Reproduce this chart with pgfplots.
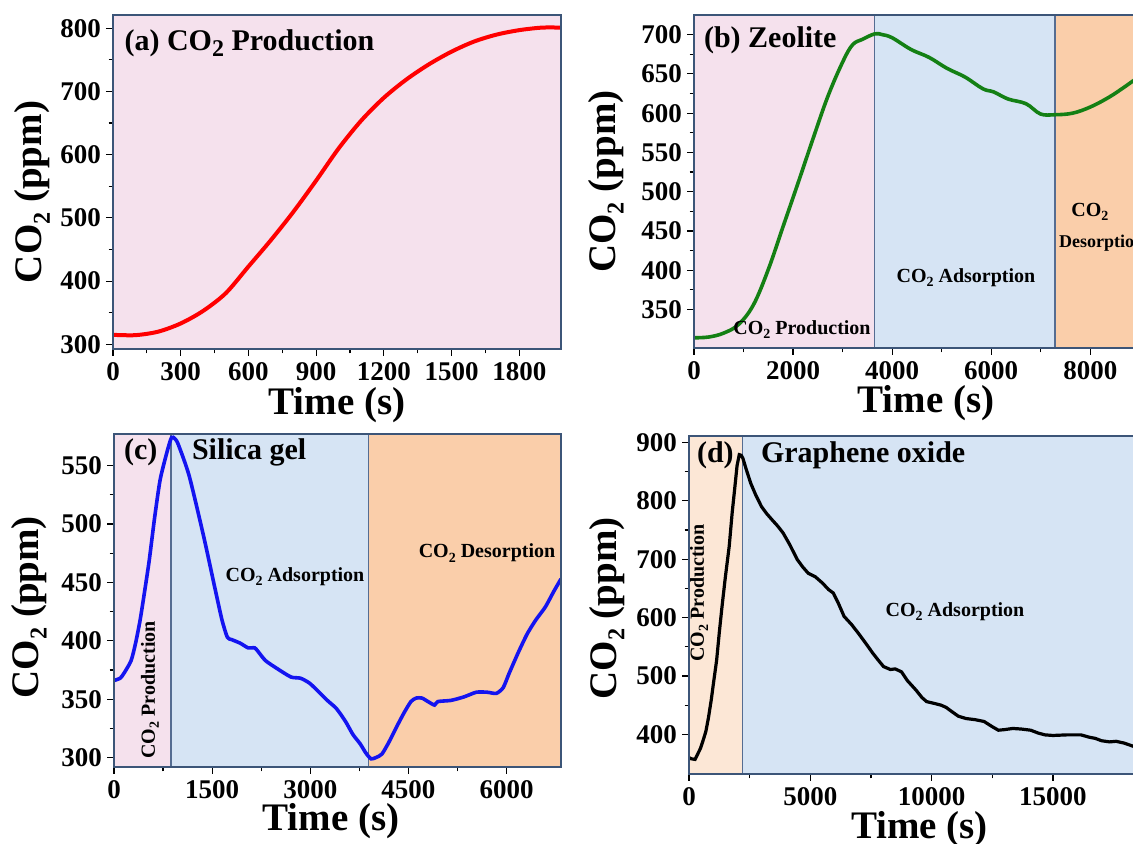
\documentclass[border=0pt]{standalone}
\usepackage{pgfplots}
\pgfplotsset{compat=1.18}
\usepackage{fontspec}
\setmainfont{Liberation Serif}
\usepackage{graphicx}
\definecolor{pinkbg}{RGB}{245,225,237}
\definecolor{bluebg}{RGB}{214,228,244}
\definecolor{orangebg}{RGB}{250,206,170}
\definecolor{peachbg}{RGB}{252,231,214}
\definecolor{axcol}{RGB}{60,85,120}
\definecolor{vcol}{RGB}{85,108,145}
\definecolor{cred}{RGB}{255,0,0}
\definecolor{cgreen}{RGB}{20,128,20}
\definecolor{cblue}{RGB}{20,20,240}
\newcommand\COt[1][0.62]{CO\raisebox{-0.45ex}{\scalebox{#1}{2}}}
\newcommand\smlab{\fontsize{10}{12}\selectfont\bfseries}
\newcommand\ttl{\fontsize{15}{17}\selectfont\bfseries}
\pgfplotsset{
  panel/.style={
    scale only axis, anchor=south west, axis on top,
    axis line style={axcol, line width=0.8pt},
    tick align=outside, tick pos=left,
    major tick length=3.5pt, minor tick length=2.2pt,
    every tick/.style={black, line width=0.6pt},
    minor tick num=1,
    scaled x ticks=false, scaled y ticks=false,
    tick label style={font=\fontsize{13.5}{15}\selectfont\bfseries},
    yticklabel style={xshift=1pt},
    xticklabel style={yshift=0.5pt},
    /pgf/number format/assume math mode=true,
    /pgf/number format/1000 sep={},
    label style={font=\fontsize{19.5}{21}\selectfont\bfseries},
    xlabel={Time (s)}, ylabel={\COt\ (ppm)},
    xlabel style={at={(axis description cs:0.5,-0.168)},anchor=center},
  }
}
\begin{document}
\begin{tikzpicture}
\useasboundingbox (0,0) rectangle (566.5pt,422pt);
% (a)
\begin{axis}[panel, at={(56.5pt,247.5pt)}, width=224pt, height=167pt,
  xmin=0, xmax=1985, ymin=292.6, ymax=821,
  xtick={0,300,...,1800}, ytick={300,400,...,800},
  ylabel style={at={(axis description cs:-0.18,0.47)},anchor=center}]
\addplot[draw=none, fill=pinkbg] coordinates {(0,292.6) (1985,292.6) (1985,821) (0,821)} -- cycle;
\addplot[cred, line width=2pt, smooth] coordinates {(0,315) (100,314.5) (200,320) (300,333) (400,353) (500,381) (600,423) (700,465) (800,510) (900,559) (1000,610) (1100,654) (1200,690) (1300,719) (1400,743) (1500,763) (1600,779) (1700,790) (1800,797) (1900,801) (1985,801)};
\node[anchor=west, font=\ttl] at (axis cs:20,777) {(a) \COt[0.8] Production};
\end{axis}
% (b)
\begin{axis}[panel, at={(347pt,248pt)}, width=222.9pt, height=166.5pt,
  xmin=0, xmax=9000, ymin=301, ymax=725,
  xtick={0,2000,...,8000}, ytick={350,400,...,700},
  ylabel style={at={(axis description cs:-0.197,0.5)},anchor=center},
  xlabel style={at={(axis description cs:0.52,-0.165)},anchor=center}]
\addplot[draw=none, fill=pinkbg] coordinates {(0,301) (3645,301) (3645,725) (0,725)} -- cycle;
\addplot[draw=none, fill=bluebg] coordinates {(3645,301) (7283,301) (7283,725) (3645,725)} -- cycle;
\addplot[draw=none, fill=orangebg] coordinates {(7283,301) (9000,301) (9000,725) (7283,725)} -- cycle;
\addplot[vcol, line width=0.9pt] coordinates {(3645,301) (3645,725)};
\addplot[vcol, line width=0.9pt] coordinates {(7283,301) (7283,725)};
\addplot[cgreen, line width=1.8pt, smooth, tension=0.6] coordinates {(0,314) (300,315) (600,320) (900,331) (1200,356) (1500,401) (1800,456) (2100,511) (2400,567) (2700,621) (3000,665) (3200,687) (3400,694) (3650,701) (3800,700) (4000,696) (4384,681) (4746,671) (5109,657) (5471,646) (5833,631) (6051,627) (6341,618) (6703,612) (6993,599) (7283,598) (7645,600) (8007,608) (8370,620) (8660,632) (8862,641) (9000,647)};
\node[anchor=west, font=\ttl] at (axis cs:60,693) {(b) Zeolite};
\node[font=\smlab] at (axis cs:2180,324) {\COt[0.7] Production};
\node[font=\smlab] at (axis cs:5490,391) {\COt[0.7] Adsorption};
\node[font=\smlab] at (axis cs:7993,474) {\COt[0.7]};
\node[font=\fontsize{9}{11}\selectfont\bfseries] at (axis cs:8230,435) {Desorption};
\end{axis}
% (c)
\begin{axis}[panel, at={(57pt,38.5pt)}, width=223.5pt, height=166.5pt,
  xmin=0, xmax=6833, ymin=292, ymax=577,
  xtick={0,1500,...,6000}, ytick={300,350,...,550},
  ylabel style={at={(axis description cs:-0.19,0.48)},anchor=center},
  xlabel style={at={(axis description cs:0.485,-0.164)},anchor=center}]
\addplot[draw=none, fill=pinkbg] coordinates {(0,292) (872,292) (872,577) (0,577)} -- cycle;
\addplot[draw=none, fill=bluebg] coordinates {(872,292) (3889,292) (3889,577) (872,577)} -- cycle;
\addplot[draw=none, fill=orangebg] coordinates {(3889,292) (6833,292) (6833,577) (3889,577)} -- cycle;
\addplot[vcol, line width=0.9pt] coordinates {(872,292) (872,577)};
\addplot[vcol, line width=0.9pt] coordinates {(3889,292) (3889,577)};
\addplot[cblue, line width=1.8pt, smooth, tension=0.4] coordinates {(0,366) (94,368) (150,372) (261,383) (330,398) (400,418) (470,443) (539,469) (620,505) (706,538) (817,563) (880,574) (930,573) (983,568) (1150,541) (1372,489) (1539,446) (1650,418) (1733,403) (1800,401) (1928,398) (2050,394) (2150,394) (2200,391) (2317,383) (2500,376) (2706,369) (2850,368) (2983,364) (3100,358) (3261,349) (3400,342) (3539,331) (3650,320) (3761,312) (3850,304) (3928,299) (4000,300) (4094,303) (4200,313) (4317,326) (4430,338) (4539,348) (4620,351) (4706,351) (4800,348) (4900,345) (4950,348) (5150,349) (5350,352) (5539,356) (5706,356) (5844,355) (5950,360) (6039,372) (6180,390) (6317,406) (6450,418) (6594,429) (6720,442) (6833,453)};
\node[anchor=west, font=\ttl] at (axis cs:45,561) {(c)};
\node[anchor=west, font=\ttl] at (axis cs:1085,561) {Silica gel};
\node[font=\smlab] at (axis cs:2767,455) {\COt[0.7] Adsorption};
\node[font=\smlab] at (axis cs:5702,475) {\COt[0.7] Desorption};
\node[font=\smlab, rotate=90] at (axis cs:550,358) {\COt[0.7] Production};
\end{axis}
% (d)
\begin{axis}[panel, at={(344.5pt,35pt)}, width=230.5pt, height=169pt,
  xmin=0, xmax=19000, ymin=332, ymax=911,
  xtick={0,5000,...,15000}, ytick={400,500,...,900},
  ylabel style={at={(axis description cs:-0.178,0.49)},anchor=center},
  xlabel style={at={(axis description cs:0.5,-0.163)},anchor=center}]
\addplot[draw=none, fill=peachbg] coordinates {(0,332) (2204,332) (2204,911) (0,911)} -- cycle;
\addplot[draw=none, fill=bluebg] coordinates {(2204,332) (19000,332) (19000,911) (2204,911)} -- cycle;
\addplot[vcol, line width=0.9pt] coordinates {(2204,332) (2204,911)};
\addplot[black, line width=1.6pt] coordinates {(0,360) (100,358) (251,357) (473,376) (600,392) (695,405) (800,428) (917,459) (1000,485) (1139,527) (1250,575) (1361,619) (1500,670) (1657,722) (1780,780) (1879,819) (1980,860) (2071,879) (2150,878) (2219,873) (2350,855) (2544,830) (2750,810) (2988,790) (3200,778) (3432,767) (3650,757) (3876,745) (4150,725) (4467,699) (4700,686) (4911,676) (5200,670) (5503,659) (5750,648) (5947,642) (6150,625) (6391,602) (6700,588) (6982,573) (7300,555) (7574,539) (7800,527) (8018,516) (8300,511) (8500,512) (8757,507) (9000,492) (9349,476) (9600,463) (9793,456) (10100,453) (10385,450) (10600,446) (10828,439) (11100,431) (11420,427) (11800,425) (12160,422) (12500,413) (12751,407) (13000,408) (13343,410) (13700,409) (14083,407) (14400,402) (14675,399) (15000,398) (15562,399) (15900,399) (16154,399) (16500,395) (16746,393) (17000,389) (17337,387) (17600,388) (17929,385) (18343,379) (19000,375)};
\node[anchor=west, font=\ttl] at (axis cs:41,878) {(d)};
\node[anchor=west, font=\ttl] at (axis cs:2679,878) {Graphene oxide};
\node[font=\smlab] at (axis cs:10963,610) {\COt[0.7] Adsorption};
\node[font=\smlab, rotate=90] at (axis cs:412,642) {\COt[0.7] Production};
\end{axis}
\end{tikzpicture}
\end{document}
